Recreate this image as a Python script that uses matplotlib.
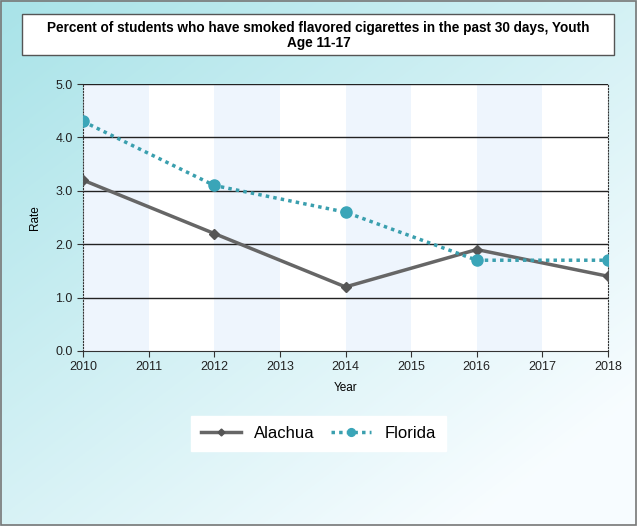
import numpy as np
import matplotlib
import matplotlib.pyplot as plt
from matplotlib.patches import Rectangle

matplotlib.use('Agg')
plt.rcParams['font.family'] = ['Liberation Sans', 'DejaVu Sans']

years = [2010, 2012, 2014, 2016, 2018]
alachua = [3.2, 2.2, 1.2, 1.9, 1.4]
florida = [4.3, 3.1, 2.6, 1.7, 1.7]
title = 'Percent of students who have smoked flavored cigarettes in the past 30 days, Youth\nAge 11-17'

fig = plt.figure(figsize=(6.37, 5.26), dpi=100)

# Фон: диагональный градиент от бирюзового к белому
bg = fig.add_axes([0, 0, 1, 1], zorder=-10)
gx, gy = np.meshgrid(np.linspace(0, 1, 300), np.linspace(0, 1, 300))
t = np.clip(0.55 * gx + 0.6 * gy, 0, 1)
c0 = np.array([0.66, 0.89, 0.91])
c1 = np.array([0.97, 0.99, 1.0])
img = c0[None, None, :] * (1 - t[..., None]) + c1[None, None, :] * t[..., None]
bg.imshow(img, aspect='auto', extent=[0, 1, 0, 1], origin='upper')
bg.add_patch(Rectangle((0.001, 0.001), 0.997, 0.997, fill=False, edgecolor='#777777', lw=1.2))
# Рамка заголовка
bg.add_patch(Rectangle((0.0345, 0.8954), 0.929, 0.078, facecolor='white', edgecolor='#555555', lw=1))
bg.set_xlim(0, 1)
bg.set_ylim(0, 1)
bg.axis('off')

fig.text(0.5, 0.932, title, ha='center', va='center', fontsize=9.8, fontweight='bold',
         linespacing=1.1)

ax = fig.add_axes([0.1303, 0.3327, 0.8242, 0.5076])
ax.set_facecolor('white')

# Чередующиеся полосы
for y0 in range(2010, 2018, 2):
    ax.axvspan(y0, y0 + 1, color='#eef5fd', zorder=0, lw=0)

for v in [1, 2, 3, 4, 5]:
    ax.axhline(v, color='#222222', lw=1, zorder=1)

ax.plot(years, alachua, color='#666666', lw=2.5, marker='D', markersize=5,
        markerfacecolor='#555555', markeredgecolor='#555555', label='Alachua', zorder=3)
ax.plot(years, florida, color='#3a9fae', lw=2.5, linestyle=(0, (1, 1.2)), marker='o', markersize=8,
        markerfacecolor='#3aa5b8', markeredgecolor='#3aa5b8', label='Florida', zorder=4)

ax.set_xlim(2010, 2018)
ax.set_ylim(0, 5)
ax.set_xticks(range(2010, 2019))
ax.set_yticks([0, 1, 2, 3, 4, 5])
ax.set_yticklabels(['%.1f' % v for v in [0, 1, 2, 3, 4, 5]])
ax.tick_params(labelsize=9, length=4, color='#333333', labelcolor='#222222')

ax.spines['top'].set_visible(False)
ax.spines['left'].set_linestyle(':')
ax.spines['right'].set_linestyle(':')
ax.spines['left'].set_color('#333333')
ax.spines['right'].set_color('#333333')
ax.spines['bottom'].set_color('#333333')

ax.set_xlabel('Year', fontsize=8.5, labelpad=6)
ax.set_ylabel('Rate', fontsize=8.5, labelpad=10)

leg = fig.legend(loc='center', bbox_to_anchor=(0.5, 0.176), ncol=2, fontsize=12,
                 frameon=True, fancybox=False, edgecolor='white', framealpha=1,
                 handlelength=2.4, columnspacing=1.0, borderpad=0.6, markerscale=0.7)

plt.savefig('out.png', dpi=100)
